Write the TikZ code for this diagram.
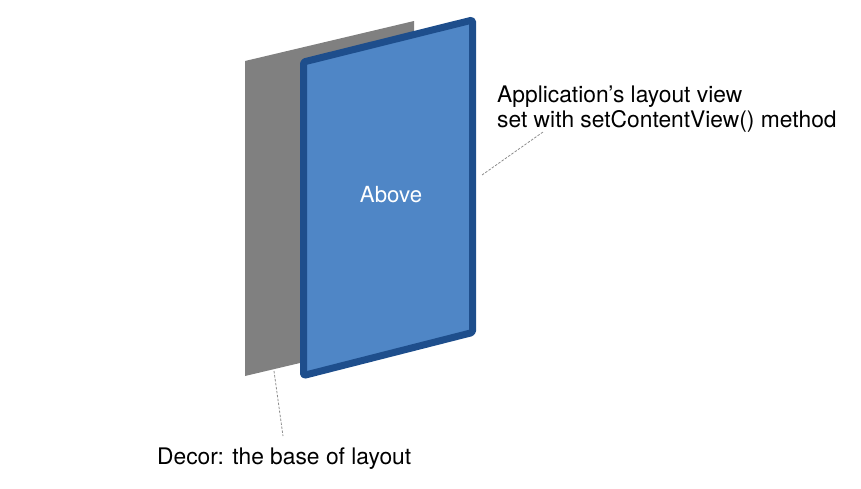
\documentclass[tikz,border=0pt]{standalone}
\usepackage{fontspec}
\setmainfont{TeX Gyre Heros}
\definecolor{panelgray}{RGB}{128,128,128}
\definecolor{bluefill}{RGB}{79,134,198}
\definecolor{blueedge}{RGB}{30,78,140}
\definecolor{leadergray}{RGB}{140,140,140}
\begin{document}
\begin{tikzpicture}[x=1pt,y=-1pt,
  labeltext/.style={font=\fontsize{22.8}{25}\selectfont, inner sep=0pt, align=left, text=black},
  leader/.style={draw=leadergray, line width=0.8pt, dash pattern=on 2.5pt off 1.5pt}]
\useasboundingbox (0,0) rectangle (861,488);
% base (decor) panel
\fill[panelgray] (245,61) -- (414,21) -- (414,336) -- (245,376) -- cycle;
% application layout panel
\draw[blueedge, fill=bluefill, line width=7pt, line join=round, rounded corners=1.5pt]
  (303.5,62) -- (472.5,20) -- (472.5,332.5) -- (303.5,375.5) -- cycle;
\node[font=\fontsize{22.2}{24}\selectfont, text=white, inner sep=0pt, anchor=base] (above) at (391,202) {Above};
% labels
\node[labeltext, anchor=base west] (applabel) at (497,102) {Application’s layout view};
\node[labeltext, anchor=base west] (applabel2) at (497,127) {set with setContentView() method};
\node[labeltext, anchor=base west] (decorlabel) at (157,464) {Decor: the base of layout};
% leaders
\coordinate (blueedgept) at (482,175);
\coordinate (append) at (543,132);
\coordinate (grayedgept) at (274,371);
\coordinate (decorend) at (283,436);
\draw[leader] (blueedgept) -- (append);
\draw[leader] (grayedgept) -- (decorend);
\end{tikzpicture}
\end{document}
